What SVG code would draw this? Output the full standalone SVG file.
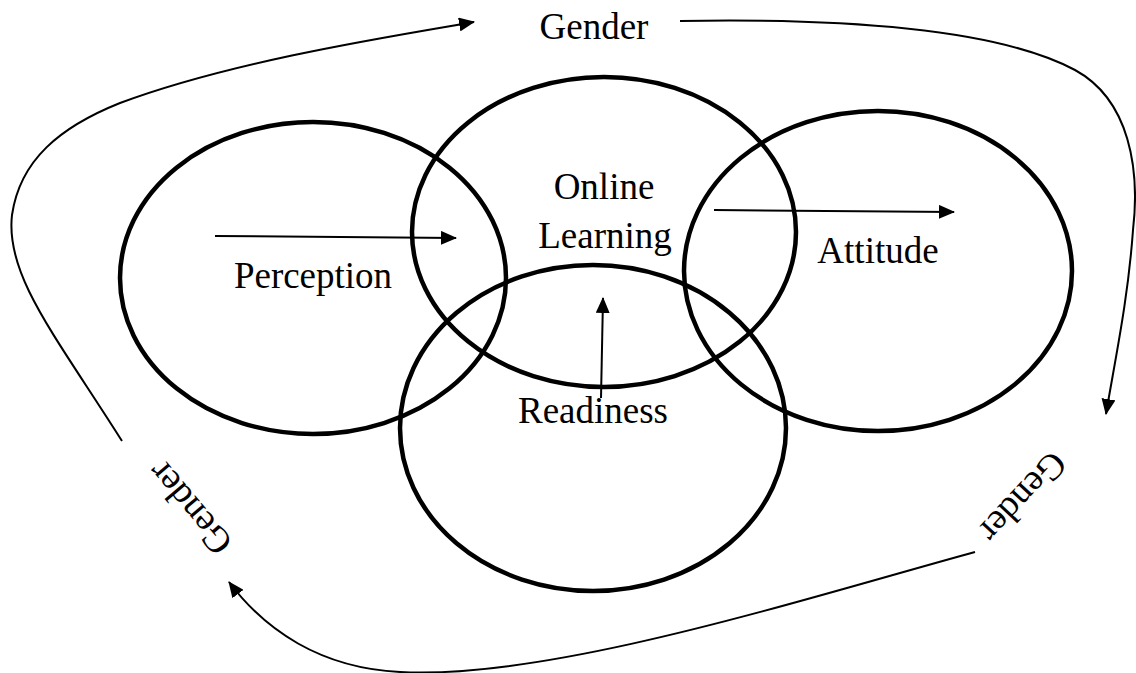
<svg xmlns="http://www.w3.org/2000/svg" width="1136" height="673" viewBox="0 0 1136 673">
<style>
.c{fill:none;stroke:#000;stroke-width:4.5}
.t{font-family:"Liberation Serif","Times New Roman",serif;font-size:37px;fill:#000}
.a{fill:none;stroke:#000;stroke-width:2;marker-end:url(#ah)}
</style>
<defs>
<marker id="ah" markerWidth="16" markerHeight="14" refX="15" refY="7" orient="auto" markerUnits="userSpaceOnUse">
<path d="M0,0 L16,7 L0,14 Z" fill="#000"/>
</marker>
</defs>
<rect width="1136" height="673" fill="#fff"/>
<g id="perception">
<ellipse class="c" cx="313" cy="278" rx="193" ry="156"/>
<text class="t" x="313" y="288" text-anchor="middle">Perception</text>
</g>
<g id="online-learning">
<ellipse class="c" cx="604" cy="232" rx="192" ry="155"/>
<text class="t" x="604" y="199" text-anchor="middle">Online</text>
<text class="t" x="605" y="248" text-anchor="middle">Learning</text>
</g>
<g id="attitude">
<ellipse class="c" cx="878" cy="271" rx="194" ry="160"/>
<text class="t" x="878" y="263" text-anchor="middle">Attitude</text>
</g>
<g id="readiness">
<ellipse class="c" cx="593" cy="428" rx="193" ry="163"/>
<text class="t" x="593" y="423" text-anchor="middle">Readiness</text>
</g>
<g id="gender-top">
<text class="t" x="594" y="39" text-anchor="middle">Gender</text>
</g>
<g id="gender-left">
<text class="t" transform="translate(190,508) rotate(230)" x="0" y="12" text-anchor="middle">Gender</text>
</g>
<g id="gender-right">
<text class="t" transform="translate(1023,497) rotate(133)" x="0" y="12" text-anchor="middle">Gender</text>
</g>
<g id="connectors">
<path class="a" d="M215,236 L456,238"/>
<path class="a" d="M714,210 L954,212"/>
<path class="a" d="M601,398 L603,298"/>
<path class="a" d="M122,441 C55,335 5,275 12,215 C20,160 60,127 120,103 C230,62 380,38 474,22"/>
<path class="a" d="M680,21 C850,18 1000,30 1075,70 C1130,100 1140,170 1133,230 C1128,300 1115,360 1106,414"/>
<path class="a" d="M975,552 C800,600 550,680 400,672 C320,668 265,630 229,582"/>
</g>
</svg>
